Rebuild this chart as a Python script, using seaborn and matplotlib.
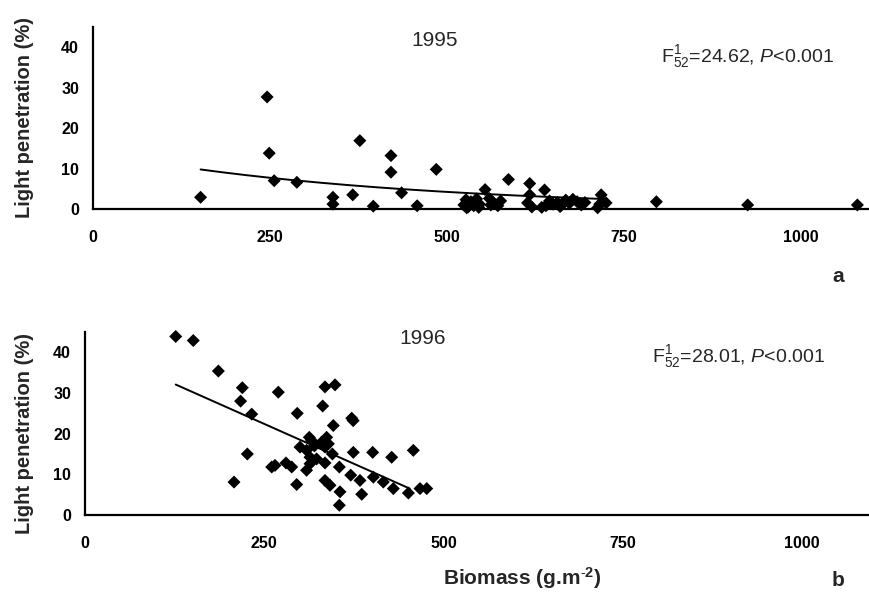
import numpy as np
import pandas as pd
import matplotlib
matplotlib.use("Agg")
import matplotlib.pyplot as plt
import seaborn as sns

# ---- data: 1995 ----
biomass_1995 = [152, 246, 249, 256, 288, 339, 339, 367, 377, 396, 421, 421, 436, 458, 485,
                524, 527, 528, 530, 534, 538, 542, 545, 546, 554, 560, 562, 566, 572, 576,
                587, 614, 617, 617, 620, 634, 638, 640, 645, 650, 656, 660, 662, 668, 673,
                678, 684, 690, 695, 713, 716, 718, 725, 796, 925, 1080]
light_1995 = [2.9, 27.7, 13.8, 7.0, 6.6, 2.9, 1.2, 3.5, 16.9, 0.7, 13.2, 9.1, 4.0, 0.8, 9.8,
              1.0, 2.3, 0.3, 0.5, 1.8, 0.8, 2.5, 0.4, 1.2, 4.8, 2.6, 1.0, 1.5, 0.8, 2.0,
              7.3, 1.5, 6.3, 3.5, 0.5, 0.4, 4.7, 0.8, 2.0, 1.2, 1.6, 0.6, 1.0, 2.2, 1.4,
              2.4, 1.8, 1.0, 1.6, 0.3, 1.2, 3.5, 1.5, 1.8, 1.0, 1.0]

# ---- data: 1996 ----
biomass_1996 = [126.5, 151, 186, 219.4, 217, 232.5, 269.6, 296, 334.7, 348.7, 331.5, 346.3,
                372, 374, 226.4, 207.8, 260.4, 265, 280.3, 288.3, 295.2, 299.9, 312.8, 316,
                309, 313.8, 309, 337, 339.4, 334.7, 330, 334.7, 334.7, 341.7, 354.7, 355.6,
                354.7, 370.6, 383.5, 385.9, 374.2, 401.2, 402.1, 416, 427.7, 430, 451, 457.9,
                467.2, 476.6, 313.8, 320, 345, 323]
light_1996 = [43.9, 42.9, 35.4, 31.3, 28.0, 24.8, 30.2, 25.0, 31.5, 32.0, 26.8, 22.0,
              23.8, 23.2, 15.0, 8.1, 11.8, 12.2, 12.8, 11.8, 7.5, 16.7, 19.1, 18.3,
              15.9, 14.2, 11.0, 19.1, 17.5, 16.7, 17.9, 12.8, 8.5, 7.3, 11.8, 5.7,
              2.4, 9.8, 8.5, 5.1, 15.4, 15.4, 9.3, 8.1, 14.2, 6.5, 5.4, 15.9,
              6.5, 6.5, 12.6, 17.0, 15.0, 13.8]

# trend lines
trend_1995_range = [152, 725]
trend_1995_a, trend_1995_b = 14.1, -0.00241      # y = a * exp(b * x)
trend_1996_range = [126.5, 453]
trend_1996_icpt, trend_1996_slope = 42.0, -0.0784  # y = icpt + slope * x

years = ["1995", "1996"]
stats = [r"F$^{1}_{52}$=24.62, $P$<0.001", r"F$^{1}_{52}$=28.01, $P$<0.001"]
panel_letters = ["a", "b"]
xticks = [0, 250, 500, 750, 1000]
yticks = [0, 10, 20, 30, 40]

sns.set_style("white")
plt.rcParams["font.family"] = ["Liberation Sans", "DejaVu Sans"]
plt.rcParams["mathtext.fontset"] = "custom"
plt.rcParams["mathtext.rm"] = "Liberation Sans"
plt.rcParams["mathtext.it"] = "Liberation Sans:italic"
plt.rcParams["mathtext.bf"] = "Liberation Sans:bold"

W, H = 869, 595
fig = plt.figure(figsize=(W / 100, H / 100), dpi=100)


def px_axes(left, right, bottom, top):
    return fig.add_axes([left / W, 1 - bottom / H, (right - left) / W, (bottom - top) / H])


ax1 = px_axes(93, 868, 209, 27)
ax2 = px_axes(85, 868, 515, 332)

df1 = pd.DataFrame({"biomass": biomass_1995, "light": light_1995})
df2 = pd.DataFrame({"biomass": biomass_1996, "light": light_1996})

t1x = np.linspace(trend_1995_range[0], trend_1995_range[1], 200)
t1 = pd.DataFrame({"biomass": t1x, "light": trend_1995_a * np.exp(trend_1995_b * t1x)})
t2x = np.array(trend_1996_range, dtype=float)
t2 = pd.DataFrame({"biomass": t2x, "light": trend_1996_icpt + trend_1996_slope * t2x})

for ax, df, tr in [(ax1, df1, t1), (ax2, df2, t2)]:
    sns.lineplot(data=tr, x="biomass", y="light", ax=ax, color="black", linewidth=1.4,
                 zorder=2, sort=False)
    sns.scatterplot(data=df, x="biomass", y="light", ax=ax, marker="D", color="black",
                    s=44, edgecolor="none", zorder=3, clip_on=False)
    ax.set_ylim(0, 45)
    ax.set_xticks(xticks)
    ax.set_yticks(yticks)
    ax.set_xlabel("")
    ax.set_ylabel("")
    for s in ["top", "right"]:
        ax.spines[s].set_visible(False)
    for s in ["left", "bottom"]:
        ax.spines[s].set_linewidth(1.6)
        ax.spines[s].set_color("black")
    ax.tick_params(axis="y", direction="in", length=4, width=1.2, pad=10,
                   labelsize=11.5, colors="black")
    ax.tick_params(axis="x", direction="in", length=4, width=1.2, pad=15,
                   labelsize=11.5, colors="black")
    for lab in ax.get_xticklabels() + ax.get_yticklabels():
        lab.set_fontweight("bold")
    ax.patch.set_alpha(0)

ax1.set_xlim(0, 1095)
ax2.set_xlim(0, 1092)


def ftext(x, y, s, **kw):
    fig.text(x / W, 1 - y / H, s, **kw)


ftext(25, 118, "Light penetration (%)", rotation=90, ha="center", va="center",
      fontsize=14.5, fontweight="bold")
ftext(25, 433, "Light penetration (%)", rotation=90, ha="center", va="center",
      fontsize=14.5, fontweight="bold")
ftext(435, 40, years[0], ha="center", va="center", fontsize=15)
ftext(423, 339, years[1], ha="center", va="center", fontsize=15)
ftext(661, 57, stats[0], ha="left", va="center", fontsize=14)
ftext(652, 357, stats[1], ha="left", va="center", fontsize=14)
ftext(838, 277, panel_letters[0], ha="center", va="center", fontsize=15, fontweight="bold")
ftext(838, 580, panel_letters[1], ha="center", va="center", fontsize=15, fontweight="bold")
ftext(522, 578, r"Biomass (g.m$^{\mathbf{\text{-}2}}$)", ha="center", va="center",
      fontsize=15, fontweight="bold")

fig.savefig("out.png", dpi=100)
